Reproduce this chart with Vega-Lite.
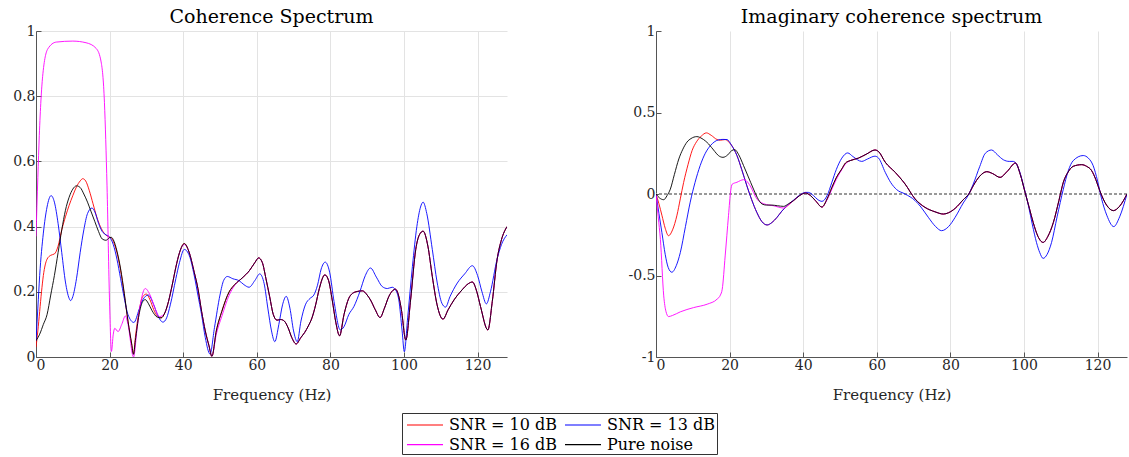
{
"$schema": "https://vega.github.io/schema/vega-lite/v6.json",
"padding": {"left": 12, "top": 8, "right": 0, "bottom": 0},
"background": "white",
"bounds": "flush",
"spacing": 149,
"datasets": {
"coh": [
{"s":"SNR = 10 dB","f":0,"v":0.03},{"s":"SNR = 10 dB","f":0.5,"v":0.08},{"s":"SNR = 10 dB","f":1,"v":0.14},{"s":"SNR = 10 dB","f":1.5,"v":0.2},{"s":"SNR = 10 dB","f":2,"v":0.25},{"s":"SNR = 10 dB","f":3,"v":0.3},{"s":"SNR = 10 dB","f":4,"v":0.312},{"s":"SNR = 10 dB","f":5,"v":0.316},{"s":"SNR = 10 dB","f":6,"v":0.34},{"s":"SNR = 10 dB","f":7,"v":0.39},{"s":"SNR = 10 dB","f":8,"v":0.43},{"s":"SNR = 10 dB","f":9,"v":0.465},{"s":"SNR = 10 dB","f":10,"v":0.495},{"s":"SNR = 10 dB","f":11,"v":0.522},{"s":"SNR = 10 dB","f":12,"v":0.54},{"s":"SNR = 10 dB","f":12.7,"v":0.547},{"s":"SNR = 10 dB","f":13.5,"v":0.54},{"s":"SNR = 10 dB","f":14.5,"v":0.51},{"s":"SNR = 10 dB","f":15.5,"v":0.47},{"s":"SNR = 10 dB","f":16.5,"v":0.43},{"s":"SNR = 10 dB","f":17.5,"v":0.4},{"s":"SNR = 10 dB","f":18.5,"v":0.38},{"s":"SNR = 10 dB","f":19.5,"v":0.37},{"s":"SNR = 10 dB","f":20.5,"v":0.365},{"s":"SNR = 10 dB","f":21,"v":0.355},{"s":"SNR = 10 dB","f":22,"v":0.32},{"s":"SNR = 10 dB","f":23,"v":0.265},{"s":"SNR = 10 dB","f":24,"v":0.19},{"s":"SNR = 10 dB","f":25,"v":0.11},{"s":"SNR = 10 dB","f":26,"v":0.04},{"s":"SNR = 10 dB","f":26.5,"v":0.01},{"s":"SNR = 10 dB","f":27,"v":0.06},{"s":"SNR = 10 dB","f":28,"v":0.14},{"s":"SNR = 10 dB","f":29,"v":0.185},{"s":"SNR = 10 dB","f":30,"v":0.193},{"s":"SNR = 10 dB","f":31,"v":0.175},{"s":"SNR = 10 dB","f":32,"v":0.145},{"s":"SNR = 10 dB","f":33,"v":0.125},{"s":"SNR = 10 dB","f":34,"v":0.12},{"s":"SNR = 10 dB","f":35,"v":0.135},{"s":"SNR = 10 dB","f":36,"v":0.17},{"s":"SNR = 10 dB","f":37,"v":0.22},{"s":"SNR = 10 dB","f":38,"v":0.275},{"s":"SNR = 10 dB","f":39,"v":0.32},{"s":"SNR = 10 dB","f":40.3,"v":0.348},{"s":"SNR = 10 dB","f":41.5,"v":0.325},{"s":"SNR = 10 dB","f":43,"v":0.26},{"s":"SNR = 10 dB","f":44,"v":0.21},{"s":"SNR = 10 dB","f":45,"v":0.14},{"s":"SNR = 10 dB","f":46,"v":0.08},{"s":"SNR = 10 dB","f":47,"v":0.035},{"s":"SNR = 10 dB","f":47.8,"v":0.002},{"s":"SNR = 10 dB","f":49,"v":0.08},{"s":"SNR = 10 dB","f":50.5,"v":0.14},{"s":"SNR = 10 dB","f":52.5,"v":0.2},{"s":"SNR = 10 dB","f":54,"v":0.222},{"s":"SNR = 10 dB","f":56,"v":0.242},{"s":"SNR = 10 dB","f":58,"v":0.265},{"s":"SNR = 10 dB","f":59.5,"v":0.29},{"s":"SNR = 10 dB","f":60.5,"v":0.304},{"s":"SNR = 10 dB","f":61.5,"v":0.29},{"s":"SNR = 10 dB","f":62.5,"v":0.24},{"s":"SNR = 10 dB","f":63.5,"v":0.185},{"s":"SNR = 10 dB","f":64.5,"v":0.13},{"s":"SNR = 10 dB","f":65.5,"v":0.113},{"s":"SNR = 10 dB","f":66.5,"v":0.115},{"s":"SNR = 10 dB","f":67.5,"v":0.11},{"s":"SNR = 10 dB","f":68.5,"v":0.09},{"s":"SNR = 10 dB","f":69.5,"v":0.06},{"s":"SNR = 10 dB","f":70.7,"v":0.04},{"s":"SNR = 10 dB","f":72,"v":0.06},{"s":"SNR = 10 dB","f":73,"v":0.075},{"s":"SNR = 10 dB","f":74,"v":0.095},{"s":"SNR = 10 dB","f":75,"v":0.12},{"s":"SNR = 10 dB","f":76,"v":0.16},{"s":"SNR = 10 dB","f":77,"v":0.21},{"s":"SNR = 10 dB","f":78.5,"v":0.252},{"s":"SNR = 10 dB","f":79.5,"v":0.235},{"s":"SNR = 10 dB","f":80.5,"v":0.175},{"s":"SNR = 10 dB","f":81.5,"v":0.105},{"s":"SNR = 10 dB","f":82.5,"v":0.065},{"s":"SNR = 10 dB","f":83.7,"v":0.13},{"s":"SNR = 10 dB","f":85,"v":0.18},{"s":"SNR = 10 dB","f":86,"v":0.195},{"s":"SNR = 10 dB","f":87.3,"v":0.201},{"s":"SNR = 10 dB","f":88.7,"v":0.203},{"s":"SNR = 10 dB","f":90,"v":0.19},{"s":"SNR = 10 dB","f":90.9,"v":0.175},{"s":"SNR = 10 dB","f":92.2,"v":0.145},{"s":"SNR = 10 dB","f":93.5,"v":0.121},{"s":"SNR = 10 dB","f":94.7,"v":0.15},{"s":"SNR = 10 dB","f":95.9,"v":0.186},{"s":"SNR = 10 dB","f":97.7,"v":0.208},{"s":"SNR = 10 dB","f":98.5,"v":0.19},{"s":"SNR = 10 dB","f":99.3,"v":0.145},{"s":"SNR = 10 dB","f":100.5,"v":0.052},{"s":"SNR = 10 dB","f":101.8,"v":0.175},{"s":"SNR = 10 dB","f":103.2,"v":0.33},{"s":"SNR = 10 dB","f":104.2,"v":0.375},{"s":"SNR = 10 dB","f":105.2,"v":0.386},{"s":"SNR = 10 dB","f":106.5,"v":0.34},{"s":"SNR = 10 dB","f":107.7,"v":0.247},{"s":"SNR = 10 dB","f":109,"v":0.16},{"s":"SNR = 10 dB","f":110.6,"v":0.116},{"s":"SNR = 10 dB","f":112,"v":0.145},{"s":"SNR = 10 dB","f":113.6,"v":0.175},{"s":"SNR = 10 dB","f":115.8,"v":0.206},{"s":"SNR = 10 dB","f":117.5,"v":0.225},{"s":"SNR = 10 dB","f":118.6,"v":0.23},{"s":"SNR = 10 dB","f":119.8,"v":0.2},{"s":"SNR = 10 dB","f":120.8,"v":0.155},{"s":"SNR = 10 dB","f":122.8,"v":0.083},{"s":"SNR = 10 dB","f":124,"v":0.17},{"s":"SNR = 10 dB","f":125.3,"v":0.298},{"s":"SNR = 10 dB","f":126.5,"v":0.36},{"s":"SNR = 10 dB","f":128,"v":0.4},

{"s":"SNR = 13 dB","f":0,"v":0.05},{"s":"SNR = 13 dB","f":0.5,"v":0.15},{"s":"SNR = 13 dB","f":1,"v":0.25},{"s":"SNR = 13 dB","f":2,"v":0.38},{"s":"SNR = 13 dB","f":3,"v":0.46},{"s":"SNR = 13 dB","f":4.1,"v":0.495},{"s":"SNR = 13 dB","f":5,"v":0.475},{"s":"SNR = 13 dB","f":6,"v":0.41},{"s":"SNR = 13 dB","f":7,"v":0.32},{"s":"SNR = 13 dB","f":8,"v":0.23},{"s":"SNR = 13 dB","f":9,"v":0.18},{"s":"SNR = 13 dB","f":9.4,"v":0.173},{"s":"SNR = 13 dB","f":10,"v":0.185},{"s":"SNR = 13 dB","f":11,"v":0.24},{"s":"SNR = 13 dB","f":12,"v":0.32},{"s":"SNR = 13 dB","f":13,"v":0.39},{"s":"SNR = 13 dB","f":14,"v":0.44},{"s":"SNR = 13 dB","f":15.2,"v":0.457},{"s":"SNR = 13 dB","f":16,"v":0.445},{"s":"SNR = 13 dB","f":17,"v":0.41},{"s":"SNR = 13 dB","f":18,"v":0.385},{"s":"SNR = 13 dB","f":19,"v":0.375},{"s":"SNR = 13 dB","f":20,"v":0.368},{"s":"SNR = 13 dB","f":21,"v":0.345},{"s":"SNR = 13 dB","f":22,"v":0.3},{"s":"SNR = 13 dB","f":23,"v":0.24},{"s":"SNR = 13 dB","f":24,"v":0.18},{"s":"SNR = 13 dB","f":25,"v":0.13},{"s":"SNR = 13 dB","f":26.6,"v":0.106},{"s":"SNR = 13 dB","f":28,"v":0.145},{"s":"SNR = 13 dB","f":29,"v":0.175},{"s":"SNR = 13 dB","f":30.5,"v":0.19},{"s":"SNR = 13 dB","f":32,"v":0.16},{"s":"SNR = 13 dB","f":33,"v":0.13},{"s":"SNR = 13 dB","f":34.5,"v":0.107},{"s":"SNR = 13 dB","f":35.5,"v":0.12},{"s":"SNR = 13 dB","f":36.5,"v":0.16},{"s":"SNR = 13 dB","f":38,"v":0.24},{"s":"SNR = 13 dB","f":39,"v":0.29},{"s":"SNR = 13 dB","f":40.3,"v":0.33},{"s":"SNR = 13 dB","f":41.7,"v":0.31},{"s":"SNR = 13 dB","f":43,"v":0.25},{"s":"SNR = 13 dB","f":44,"v":0.19},{"s":"SNR = 13 dB","f":45,"v":0.13},{"s":"SNR = 13 dB","f":46,"v":0.06},{"s":"SNR = 13 dB","f":47.3,"v":0.009},{"s":"SNR = 13 dB","f":48.5,"v":0.09},{"s":"SNR = 13 dB","f":50,"v":0.19},{"s":"SNR = 13 dB","f":51,"v":0.235},{"s":"SNR = 13 dB","f":52,"v":0.247},{"s":"SNR = 13 dB","f":53.5,"v":0.24},{"s":"SNR = 13 dB","f":55.2,"v":0.234},{"s":"SNR = 13 dB","f":56.5,"v":0.222},{"s":"SNR = 13 dB","f":57.9,"v":0.214},{"s":"SNR = 13 dB","f":59.5,"v":0.235},{"s":"SNR = 13 dB","f":60.8,"v":0.255},{"s":"SNR = 13 dB","f":62,"v":0.225},{"s":"SNR = 13 dB","f":63,"v":0.15},{"s":"SNR = 13 dB","f":64,"v":0.08},{"s":"SNR = 13 dB","f":64.9,"v":0.047},{"s":"SNR = 13 dB","f":66,"v":0.1},{"s":"SNR = 13 dB","f":67,"v":0.16},{"s":"SNR = 13 dB","f":68,"v":0.186},{"s":"SNR = 13 dB","f":69,"v":0.15},{"s":"SNR = 13 dB","f":70,"v":0.08},{"s":"SNR = 13 dB","f":71,"v":0.047},{"s":"SNR = 13 dB","f":72,"v":0.11},{"s":"SNR = 13 dB","f":73.2,"v":0.16},{"s":"SNR = 13 dB","f":74.5,"v":0.18},{"s":"SNR = 13 dB","f":75.5,"v":0.19},{"s":"SNR = 13 dB","f":76.5,"v":0.22},{"s":"SNR = 13 dB","f":77.5,"v":0.27},{"s":"SNR = 13 dB","f":78.6,"v":0.291},{"s":"SNR = 13 dB","f":79.8,"v":0.26},{"s":"SNR = 13 dB","f":81,"v":0.17},{"s":"SNR = 13 dB","f":82.7,"v":0.083},{"s":"SNR = 13 dB","f":83.7,"v":0.093},{"s":"SNR = 13 dB","f":85,"v":0.13},{"s":"SNR = 13 dB","f":86.4,"v":0.155},{"s":"SNR = 13 dB","f":88,"v":0.2},{"s":"SNR = 13 dB","f":89.5,"v":0.25},{"s":"SNR = 13 dB","f":90.9,"v":0.273},{"s":"SNR = 13 dB","f":92.5,"v":0.245},{"s":"SNR = 13 dB","f":94.1,"v":0.216},{"s":"SNR = 13 dB","f":95.5,"v":0.21},{"s":"SNR = 13 dB","f":96.8,"v":0.214},{"s":"SNR = 13 dB","f":98,"v":0.2},{"s":"SNR = 13 dB","f":98.6,"v":0.175},{"s":"SNR = 13 dB","f":99.5,"v":0.08},{"s":"SNR = 13 dB","f":100.1,"v":0.016},{"s":"SNR = 13 dB","f":101,"v":0.12},{"s":"SNR = 13 dB","f":102.3,"v":0.278},{"s":"SNR = 13 dB","f":103.5,"v":0.4},{"s":"SNR = 13 dB","f":104.5,"v":0.46},{"s":"SNR = 13 dB","f":105.2,"v":0.475},{"s":"SNR = 13 dB","f":106.2,"v":0.44},{"s":"SNR = 13 dB","f":107.7,"v":0.33},{"s":"SNR = 13 dB","f":109,"v":0.23},{"s":"SNR = 13 dB","f":110.3,"v":0.165},{"s":"SNR = 13 dB","f":111.3,"v":0.153},{"s":"SNR = 13 dB","f":112.5,"v":0.185},{"s":"SNR = 13 dB","f":114.5,"v":0.227},{"s":"SNR = 13 dB","f":116.5,"v":0.255},{"s":"SNR = 13 dB","f":118.6,"v":0.28},{"s":"SNR = 13 dB","f":120,"v":0.25},{"s":"SNR = 13 dB","f":121.2,"v":0.2},{"s":"SNR = 13 dB","f":122.4,"v":0.163},{"s":"SNR = 13 dB","f":123.5,"v":0.2},{"s":"SNR = 13 dB","f":125.3,"v":0.3},{"s":"SNR = 13 dB","f":126.5,"v":0.345},{"s":"SNR = 13 dB","f":128,"v":0.375},

{"s":"SNR = 16 dB","f":0,"v":0.37},{"s":"SNR = 16 dB","f":0.5,"v":0.55},{"s":"SNR = 16 dB","f":0.9,"v":0.68},{"s":"SNR = 16 dB","f":1.8,"v":0.86},{"s":"SNR = 16 dB","f":3.2,"v":0.945},{"s":"SNR = 16 dB","f":5.5,"v":0.966},{"s":"SNR = 16 dB","f":10,"v":0.969},{"s":"SNR = 16 dB","f":13.6,"v":0.964},{"s":"SNR = 16 dB","f":16.4,"v":0.946},{"s":"SNR = 16 dB","f":17.7,"v":0.905},{"s":"SNR = 16 dB","f":18.6,"v":0.78},{"s":"SNR = 16 dB","f":19.3,"v":0.525},{"s":"SNR = 16 dB","f":20,"v":0.166},{"s":"SNR = 16 dB","f":20.5,"v":0.017},{"s":"SNR = 16 dB","f":21,"v":0.07},{"s":"SNR = 16 dB","f":21.4,"v":0.088},{"s":"SNR = 16 dB","f":22.3,"v":0.078},{"s":"SNR = 16 dB","f":23.3,"v":0.1},{"s":"SNR = 16 dB","f":24.3,"v":0.126},{"s":"SNR = 16 dB","f":25,"v":0.1},{"s":"SNR = 16 dB","f":26.5,"v":0.0},{"s":"SNR = 16 dB","f":27.5,"v":0.09},{"s":"SNR = 16 dB","f":28.5,"v":0.17},{"s":"SNR = 16 dB","f":29.7,"v":0.21},{"s":"SNR = 16 dB","f":31,"v":0.19},{"s":"SNR = 16 dB","f":32.5,"v":0.145},{"s":"SNR = 16 dB","f":33.6,"v":0.124},{"s":"SNR = 16 dB","f":35,"v":0.135},{"s":"SNR = 16 dB","f":36,"v":0.17},{"s":"SNR = 16 dB","f":37,"v":0.22},{"s":"SNR = 16 dB","f":38,"v":0.275},{"s":"SNR = 16 dB","f":39,"v":0.32},{"s":"SNR = 16 dB","f":40.3,"v":0.345},{"s":"SNR = 16 dB","f":41.5,"v":0.325},{"s":"SNR = 16 dB","f":43,"v":0.26},{"s":"SNR = 16 dB","f":44,"v":0.21},{"s":"SNR = 16 dB","f":45,"v":0.14},{"s":"SNR = 16 dB","f":46,"v":0.08},{"s":"SNR = 16 dB","f":47,"v":0.035},{"s":"SNR = 16 dB","f":47.8,"v":0.002},{"s":"SNR = 16 dB","f":49,"v":0.07},{"s":"SNR = 16 dB","f":50.5,"v":0.125},{"s":"SNR = 16 dB","f":52.5,"v":0.19},{"s":"SNR = 16 dB","f":54,"v":0.22},{"s":"SNR = 16 dB","f":56,"v":0.242},{"s":"SNR = 16 dB","f":58,"v":0.265},{"s":"SNR = 16 dB","f":59.5,"v":0.29},{"s":"SNR = 16 dB","f":60.5,"v":0.304},{"s":"SNR = 16 dB","f":61.5,"v":0.29},{"s":"SNR = 16 dB","f":62.5,"v":0.24},{"s":"SNR = 16 dB","f":63.5,"v":0.185},{"s":"SNR = 16 dB","f":64.5,"v":0.13},{"s":"SNR = 16 dB","f":65.5,"v":0.113},{"s":"SNR = 16 dB","f":66.5,"v":0.115},{"s":"SNR = 16 dB","f":67.5,"v":0.11},{"s":"SNR = 16 dB","f":68.5,"v":0.09},{"s":"SNR = 16 dB","f":69.5,"v":0.06},{"s":"SNR = 16 dB","f":70.7,"v":0.04},{"s":"SNR = 16 dB","f":72,"v":0.06},{"s":"SNR = 16 dB","f":73,"v":0.075},{"s":"SNR = 16 dB","f":74,"v":0.095},{"s":"SNR = 16 dB","f":75,"v":0.12},{"s":"SNR = 16 dB","f":76,"v":0.16},{"s":"SNR = 16 dB","f":77,"v":0.21},{"s":"SNR = 16 dB","f":78.5,"v":0.252},{"s":"SNR = 16 dB","f":79.5,"v":0.235},{"s":"SNR = 16 dB","f":80.5,"v":0.175},{"s":"SNR = 16 dB","f":81.5,"v":0.105},{"s":"SNR = 16 dB","f":82.5,"v":0.065},{"s":"SNR = 16 dB","f":83.7,"v":0.13},{"s":"SNR = 16 dB","f":85,"v":0.18},{"s":"SNR = 16 dB","f":86,"v":0.195},{"s":"SNR = 16 dB","f":87.3,"v":0.201},{"s":"SNR = 16 dB","f":88.7,"v":0.203},{"s":"SNR = 16 dB","f":90,"v":0.19},{"s":"SNR = 16 dB","f":90.9,"v":0.175},{"s":"SNR = 16 dB","f":92.2,"v":0.145},{"s":"SNR = 16 dB","f":93.5,"v":0.121},{"s":"SNR = 16 dB","f":94.7,"v":0.15},{"s":"SNR = 16 dB","f":95.9,"v":0.186},{"s":"SNR = 16 dB","f":97.7,"v":0.208},{"s":"SNR = 16 dB","f":98.5,"v":0.19},{"s":"SNR = 16 dB","f":99.3,"v":0.145},{"s":"SNR = 16 dB","f":100.5,"v":0.052},{"s":"SNR = 16 dB","f":101.8,"v":0.175},{"s":"SNR = 16 dB","f":103.2,"v":0.33},{"s":"SNR = 16 dB","f":104.2,"v":0.375},{"s":"SNR = 16 dB","f":105.2,"v":0.386},{"s":"SNR = 16 dB","f":106.5,"v":0.34},{"s":"SNR = 16 dB","f":107.7,"v":0.247},{"s":"SNR = 16 dB","f":109,"v":0.16},{"s":"SNR = 16 dB","f":110.6,"v":0.116},{"s":"SNR = 16 dB","f":112,"v":0.145},{"s":"SNR = 16 dB","f":113.6,"v":0.175},{"s":"SNR = 16 dB","f":115.8,"v":0.206},{"s":"SNR = 16 dB","f":117.5,"v":0.225},{"s":"SNR = 16 dB","f":118.6,"v":0.23},{"s":"SNR = 16 dB","f":119.8,"v":0.2},{"s":"SNR = 16 dB","f":120.8,"v":0.155},{"s":"SNR = 16 dB","f":122.8,"v":0.083},{"s":"SNR = 16 dB","f":124,"v":0.17},{"s":"SNR = 16 dB","f":125.3,"v":0.298},{"s":"SNR = 16 dB","f":126.5,"v":0.36},{"s":"SNR = 16 dB","f":128,"v":0.4},

{"s":"Pure noise","f":0,"v":0.05},{"s":"Pure noise","f":1,"v":0.07},{"s":"Pure noise","f":2,"v":0.1},{"s":"Pure noise","f":3,"v":0.13},{"s":"Pure noise","f":4,"v":0.19},{"s":"Pure noise","f":5,"v":0.25},{"s":"Pure noise","f":6,"v":0.32},{"s":"Pure noise","f":7,"v":0.39},{"s":"Pure noise","f":8,"v":0.45},{"s":"Pure noise","f":9,"v":0.49},{"s":"Pure noise","f":10,"v":0.515},{"s":"Pure noise","f":11,"v":0.525},{"s":"Pure noise","f":12,"v":0.52},{"s":"Pure noise","f":13,"v":0.5},{"s":"Pure noise","f":14,"v":0.475},{"s":"Pure noise","f":15,"v":0.445},{"s":"Pure noise","f":16,"v":0.415},{"s":"Pure noise","f":17,"v":0.385},{"s":"Pure noise","f":18,"v":0.362},{"s":"Pure noise","f":19,"v":0.358},{"s":"Pure noise","f":20,"v":0.366},{"s":"Pure noise","f":20.5,"v":0.367},{"s":"Pure noise","f":21,"v":0.36},{"s":"Pure noise","f":22,"v":0.325},{"s":"Pure noise","f":23,"v":0.27},{"s":"Pure noise","f":24,"v":0.195},{"s":"Pure noise","f":25,"v":0.11},{"s":"Pure noise","f":26,"v":0.04},{"s":"Pure noise","f":26.5,"v":0.008},{"s":"Pure noise","f":27,"v":0.05},{"s":"Pure noise","f":28,"v":0.13},{"s":"Pure noise","f":29,"v":0.17},{"s":"Pure noise","f":29.7,"v":0.176},{"s":"Pure noise","f":30.5,"v":0.165},{"s":"Pure noise","f":31.5,"v":0.143},{"s":"Pure noise","f":33,"v":0.122},{"s":"Pure noise","f":34,"v":0.12},{"s":"Pure noise","f":35,"v":0.135},{"s":"Pure noise","f":36,"v":0.17},{"s":"Pure noise","f":37,"v":0.22},{"s":"Pure noise","f":38,"v":0.275},{"s":"Pure noise","f":39,"v":0.32},{"s":"Pure noise","f":40.3,"v":0.348},{"s":"Pure noise","f":41.5,"v":0.325},{"s":"Pure noise","f":43,"v":0.26},{"s":"Pure noise","f":44,"v":0.21},{"s":"Pure noise","f":45,"v":0.14},{"s":"Pure noise","f":46,"v":0.08},{"s":"Pure noise","f":47,"v":0.035},{"s":"Pure noise","f":47.8,"v":0.002},{"s":"Pure noise","f":49,"v":0.08},{"s":"Pure noise","f":50.5,"v":0.14},{"s":"Pure noise","f":52.5,"v":0.2},{"s":"Pure noise","f":54,"v":0.222},{"s":"Pure noise","f":56,"v":0.242},{"s":"Pure noise","f":58,"v":0.265},{"s":"Pure noise","f":59.5,"v":0.29},{"s":"Pure noise","f":60.5,"v":0.304},{"s":"Pure noise","f":61.5,"v":0.29},{"s":"Pure noise","f":62.5,"v":0.24},{"s":"Pure noise","f":63.5,"v":0.185},{"s":"Pure noise","f":64.5,"v":0.13},{"s":"Pure noise","f":65.5,"v":0.113},{"s":"Pure noise","f":66.5,"v":0.115},{"s":"Pure noise","f":67.5,"v":0.11},{"s":"Pure noise","f":68.5,"v":0.09},{"s":"Pure noise","f":69.5,"v":0.06},{"s":"Pure noise","f":70.7,"v":0.04},{"s":"Pure noise","f":72,"v":0.06},{"s":"Pure noise","f":73,"v":0.075},{"s":"Pure noise","f":74,"v":0.095},{"s":"Pure noise","f":75,"v":0.12},{"s":"Pure noise","f":76,"v":0.16},{"s":"Pure noise","f":77,"v":0.21},{"s":"Pure noise","f":78.5,"v":0.252},{"s":"Pure noise","f":79.5,"v":0.235},{"s":"Pure noise","f":80.5,"v":0.175},{"s":"Pure noise","f":81.5,"v":0.105},{"s":"Pure noise","f":82.5,"v":0.065},{"s":"Pure noise","f":83.7,"v":0.13},{"s":"Pure noise","f":85,"v":0.18},{"s":"Pure noise","f":86,"v":0.195},{"s":"Pure noise","f":87.3,"v":0.201},{"s":"Pure noise","f":88.7,"v":0.203},{"s":"Pure noise","f":90,"v":0.19},{"s":"Pure noise","f":90.9,"v":0.175},{"s":"Pure noise","f":92.2,"v":0.145},{"s":"Pure noise","f":93.5,"v":0.121},{"s":"Pure noise","f":94.7,"v":0.15},{"s":"Pure noise","f":95.9,"v":0.186},{"s":"Pure noise","f":97.7,"v":0.208},{"s":"Pure noise","f":98.5,"v":0.19},{"s":"Pure noise","f":99.3,"v":0.145},{"s":"Pure noise","f":100.5,"v":0.052},{"s":"Pure noise","f":101.8,"v":0.175},{"s":"Pure noise","f":103.2,"v":0.33},{"s":"Pure noise","f":104.2,"v":0.375},{"s":"Pure noise","f":105.2,"v":0.386},{"s":"Pure noise","f":106.5,"v":0.34},{"s":"Pure noise","f":107.7,"v":0.247},{"s":"Pure noise","f":109,"v":0.16},{"s":"Pure noise","f":110.6,"v":0.116},{"s":"Pure noise","f":112,"v":0.145},{"s":"Pure noise","f":113.6,"v":0.175},{"s":"Pure noise","f":115.8,"v":0.206},{"s":"Pure noise","f":117.5,"v":0.225},{"s":"Pure noise","f":118.6,"v":0.23},{"s":"Pure noise","f":119.8,"v":0.2},{"s":"Pure noise","f":120.8,"v":0.155},{"s":"Pure noise","f":122.8,"v":0.083},{"s":"Pure noise","f":124,"v":0.17},{"s":"Pure noise","f":125.3,"v":0.298},{"s":"Pure noise","f":126.5,"v":0.36},{"s":"Pure noise","f":128,"v":0.4}
],
"imag": [
{"s":"SNR = 10 dB","f":0,"v":0},{"s":"SNR = 10 dB","f":0.8,"v":-0.06},{"s":"SNR = 10 dB","f":1.6,"v":-0.13},{"s":"SNR = 10 dB","f":2.5,"v":-0.21},{"s":"SNR = 10 dB","f":3.4,"v":-0.256},{"s":"SNR = 10 dB","f":4.5,"v":-0.22},{"s":"SNR = 10 dB","f":5.7,"v":-0.13},{"s":"SNR = 10 dB","f":6.6,"v":-0.03},{"s":"SNR = 10 dB","f":7.5,"v":0.07},{"s":"SNR = 10 dB","f":8.7,"v":0.18},{"s":"SNR = 10 dB","f":9.8,"v":0.266},{"s":"SNR = 10 dB","f":11,"v":0.32},{"s":"SNR = 10 dB","f":12.3,"v":0.355},{"s":"SNR = 10 dB","f":13.7,"v":0.375},{"s":"SNR = 10 dB","f":15,"v":0.36},{"s":"SNR = 10 dB","f":16.6,"v":0.334},{"s":"SNR = 10 dB","f":17.5,"v":0.33},{"s":"SNR = 10 dB","f":18.8,"v":0.334},{"s":"SNR = 10 dB","f":19.5,"v":0.325},{"s":"SNR = 10 dB","f":20.5,"v":0.3},{"s":"SNR = 10 dB","f":22,"v":0.236},{"s":"SNR = 10 dB","f":23.3,"v":0.15},{"s":"SNR = 10 dB","f":24.7,"v":0.05},{"s":"SNR = 10 dB","f":26,"v":-0.035},{"s":"SNR = 10 dB","f":27.4,"v":-0.113},{"s":"SNR = 10 dB","f":28.8,"v":-0.17},{"s":"SNR = 10 dB","f":30.2,"v":-0.19},{"s":"SNR = 10 dB","f":31.5,"v":-0.175},{"s":"SNR = 10 dB","f":32.9,"v":-0.143},{"s":"SNR = 10 dB","f":34.2,"v":-0.105},{"s":"SNR = 10 dB","f":35.6,"v":-0.075},{"s":"SNR = 10 dB","f":37.4,"v":-0.04},{"s":"SNR = 10 dB","f":39,"v":-0.01},{"s":"SNR = 10 dB","f":40.6,"v":0.006},{"s":"SNR = 10 dB","f":42,"v":-0.01},{"s":"SNR = 10 dB","f":43.3,"v":-0.04},{"s":"SNR = 10 dB","f":45.1,"v":-0.08},{"s":"SNR = 10 dB","f":46.5,"v":-0.03},{"s":"SNR = 10 dB","f":47.8,"v":0.04},{"s":"SNR = 10 dB","f":49,"v":0.1},{"s":"SNR = 10 dB","f":50.5,"v":0.154},{"s":"SNR = 10 dB","f":51.5,"v":0.19},{"s":"SNR = 10 dB","f":52.8,"v":0.205},{"s":"SNR = 10 dB","f":55,"v":0.22},{"s":"SNR = 10 dB","f":57.3,"v":0.246},{"s":"SNR = 10 dB","f":59.5,"v":0.27},{"s":"SNR = 10 dB","f":60.5,"v":0.26},{"s":"SNR = 10 dB","f":62.3,"v":0.195},{"s":"SNR = 10 dB","f":65,"v":0.133},{"s":"SNR = 10 dB","f":67.7,"v":0.061},{"s":"SNR = 10 dB","f":70.4,"v":-0.03},{"s":"SNR = 10 dB","f":73.1,"v":-0.082},{"s":"SNR = 10 dB","f":75.8,"v":-0.109},{"s":"SNR = 10 dB","f":78.1,"v":-0.123},{"s":"SNR = 10 dB","f":79.5,"v":-0.115},{"s":"SNR = 10 dB","f":81.3,"v":-0.088},{"s":"SNR = 10 dB","f":83.5,"v":-0.035},{"s":"SNR = 10 dB","f":85,"v":0.0},{"s":"SNR = 10 dB","f":86.2,"v":0.05},{"s":"SNR = 10 dB","f":88,"v":0.11},{"s":"SNR = 10 dB","f":89.9,"v":0.137},{"s":"SNR = 10 dB","f":91.5,"v":0.125},{"s":"SNR = 10 dB","f":93.5,"v":0.102},{"s":"SNR = 10 dB","f":95.5,"v":0.14},{"s":"SNR = 10 dB","f":97.7,"v":0.19},{"s":"SNR = 10 dB","f":99,"v":0.12},{"s":"SNR = 10 dB","f":100.3,"v":0.01},{"s":"SNR = 10 dB","f":101.5,"v":-0.09},{"s":"SNR = 10 dB","f":102.5,"v":-0.174},{"s":"SNR = 10 dB","f":103.8,"v":-0.26},{"s":"SNR = 10 dB","f":105.2,"v":-0.297},{"s":"SNR = 10 dB","f":106.5,"v":-0.26},{"s":"SNR = 10 dB","f":108,"v":-0.174},{"s":"SNR = 10 dB","f":109.5,"v":-0.04},{"s":"SNR = 10 dB","f":110.7,"v":0.072},{"s":"SNR = 10 dB","f":112,"v":0.135},{"s":"SNR = 10 dB","f":113.4,"v":0.17},{"s":"SNR = 10 dB","f":115.7,"v":0.18},{"s":"SNR = 10 dB","f":117,"v":0.17},{"s":"SNR = 10 dB","f":118.4,"v":0.143},{"s":"SNR = 10 dB","f":119.5,"v":0.09},{"s":"SNR = 10 dB","f":120.6,"v":0.02},{"s":"SNR = 10 dB","f":122.5,"v":-0.07},{"s":"SNR = 10 dB","f":124.3,"v":-0.102},{"s":"SNR = 10 dB","f":126,"v":-0.075},{"s":"SNR = 10 dB","f":128,"v":0},

{"s":"SNR = 13 dB","f":0,"v":0},{"s":"SNR = 13 dB","f":0.8,"v":-0.12},{"s":"SNR = 13 dB","f":1.6,"v":-0.236},{"s":"SNR = 13 dB","f":2.5,"v":-0.37},{"s":"SNR = 13 dB","f":3.3,"v":-0.45},{"s":"SNR = 13 dB","f":4.3,"v":-0.48},{"s":"SNR = 13 dB","f":5.5,"v":-0.44},{"s":"SNR = 13 dB","f":6.6,"v":-0.36},{"s":"SNR = 13 dB","f":8,"v":-0.2},{"s":"SNR = 13 dB","f":9.3,"v":-0.05},{"s":"SNR = 13 dB","f":10.6,"v":0.07},{"s":"SNR = 13 dB","f":12,"v":0.174},{"s":"SNR = 13 dB","f":13.4,"v":0.25},{"s":"SNR = 13 dB","f":14.8,"v":0.297},{"s":"SNR = 13 dB","f":16,"v":0.322},{"s":"SNR = 13 dB","f":17,"v":0.332},{"s":"SNR = 13 dB","f":18.2,"v":0.335},{"s":"SNR = 13 dB","f":19.3,"v":0.334},{"s":"SNR = 13 dB","f":20.5,"v":0.3},{"s":"SNR = 13 dB","f":22,"v":0.236},{"s":"SNR = 13 dB","f":23.3,"v":0.15},{"s":"SNR = 13 dB","f":24.7,"v":0.05},{"s":"SNR = 13 dB","f":26,"v":-0.035},{"s":"SNR = 13 dB","f":27.4,"v":-0.113},{"s":"SNR = 13 dB","f":28.8,"v":-0.17},{"s":"SNR = 13 dB","f":30.2,"v":-0.19},{"s":"SNR = 13 dB","f":31.5,"v":-0.175},{"s":"SNR = 13 dB","f":32.9,"v":-0.143},{"s":"SNR = 13 dB","f":34.2,"v":-0.105},{"s":"SNR = 13 dB","f":35.6,"v":-0.072},{"s":"SNR = 13 dB","f":37,"v":-0.045},{"s":"SNR = 13 dB","f":38.3,"v":-0.02},{"s":"SNR = 13 dB","f":39.5,"v":0.0},{"s":"SNR = 13 dB","f":40.6,"v":0.01},{"s":"SNR = 13 dB","f":41.4,"v":0.01},{"s":"SNR = 13 dB","f":42.8,"v":-0.01},{"s":"SNR = 13 dB","f":44,"v":-0.035},{"s":"SNR = 13 dB","f":45.1,"v":-0.045},{"s":"SNR = 13 dB","f":46.5,"v":-0.01},{"s":"SNR = 13 dB","f":47.8,"v":0.072},{"s":"SNR = 13 dB","f":49,"v":0.15},{"s":"SNR = 13 dB","f":50.5,"v":0.22},{"s":"SNR = 13 dB","f":52.1,"v":0.252},{"s":"SNR = 13 dB","f":53.5,"v":0.23},{"s":"SNR = 13 dB","f":55.9,"v":0.2},{"s":"SNR = 13 dB","f":57.5,"v":0.215},{"s":"SNR = 13 dB","f":59.5,"v":0.232},{"s":"SNR = 13 dB","f":60.5,"v":0.22},{"s":"SNR = 13 dB","f":62.3,"v":0.133},{"s":"SNR = 13 dB","f":63.8,"v":0.07},{"s":"SNR = 13 dB","f":65.4,"v":0.027},{"s":"SNR = 13 dB","f":67.7,"v":0.0},{"s":"SNR = 13 dB","f":70.4,"v":-0.04},{"s":"SNR = 13 dB","f":72,"v":-0.08},{"s":"SNR = 13 dB","f":74,"v":-0.143},{"s":"SNR = 13 dB","f":76,"v":-0.2},{"s":"SNR = 13 dB","f":77.6,"v":-0.225},{"s":"SNR = 13 dB","f":79.5,"v":-0.2},{"s":"SNR = 13 dB","f":81.3,"v":-0.143},{"s":"SNR = 13 dB","f":83.5,"v":-0.055},{"s":"SNR = 13 dB","f":84.9,"v":-0.006},{"s":"SNR = 13 dB","f":86.2,"v":0.06},{"s":"SNR = 13 dB","f":88,"v":0.17},{"s":"SNR = 13 dB","f":89.5,"v":0.25},{"s":"SNR = 13 dB","f":91.2,"v":0.27},{"s":"SNR = 13 dB","f":92.8,"v":0.24},{"s":"SNR = 13 dB","f":94.4,"v":0.21},{"s":"SNR = 13 dB","f":96,"v":0.2},{"s":"SNR = 13 dB","f":97.1,"v":0.2},{"s":"SNR = 13 dB","f":98.9,"v":0.133},{"s":"SNR = 13 dB","f":100,"v":0.04},{"s":"SNR = 13 dB","f":101.2,"v":-0.07},{"s":"SNR = 13 dB","f":102.3,"v":-0.19},{"s":"SNR = 13 dB","f":103.4,"v":-0.297},{"s":"SNR = 13 dB","f":104.3,"v":-0.36},{"s":"SNR = 13 dB","f":105.2,"v":-0.395},{"s":"SNR = 13 dB","f":106.3,"v":-0.37},{"s":"SNR = 13 dB","f":107.5,"v":-0.297},{"s":"SNR = 13 dB","f":109,"v":-0.14},{"s":"SNR = 13 dB","f":110.7,"v":0.03},{"s":"SNR = 13 dB","f":112,"v":0.14},{"s":"SNR = 13 dB","f":113.4,"v":0.205},{"s":"SNR = 13 dB","f":116.1,"v":0.236},{"s":"SNR = 13 dB","f":117.5,"v":0.22},{"s":"SNR = 13 dB","f":118.8,"v":0.174},{"s":"SNR = 13 dB","f":120,"v":0.08},{"s":"SNR = 13 dB","f":121.1,"v":-0.03},{"s":"SNR = 13 dB","f":122.5,"v":-0.13},{"s":"SNR = 13 dB","f":124.4,"v":-0.2},{"s":"SNR = 13 dB","f":126,"v":-0.14},{"s":"SNR = 13 dB","f":128,"v":0},

{"s":"SNR = 16 dB","f":0,"v":0},{"s":"SNR = 16 dB","f":0.6,"v":-0.14},{"s":"SNR = 16 dB","f":1.2,"v":-0.28},{"s":"SNR = 16 dB","f":2.1,"v":-0.625},{"s":"SNR = 16 dB","f":2.7,"v":-0.72},{"s":"SNR = 16 dB","f":3.4,"v":-0.752},{"s":"SNR = 16 dB","f":4.5,"v":-0.745},{"s":"SNR = 16 dB","f":6.6,"v":-0.723},{"s":"SNR = 16 dB","f":10.2,"v":-0.697},{"s":"SNR = 16 dB","f":13.9,"v":-0.676},{"s":"SNR = 16 dB","f":16.6,"v":-0.645},{"s":"SNR = 16 dB","f":17.5,"v":-0.62},{"s":"SNR = 16 dB","f":18,"v":-0.584},{"s":"SNR = 16 dB","f":18.8,"v":-0.38},{"s":"SNR = 16 dB","f":19.7,"v":-0.133},{"s":"SNR = 16 dB","f":20.3,"v":0.02},{"s":"SNR = 16 dB","f":20.7,"v":0.06},{"s":"SNR = 16 dB","f":22,"v":0.072},{"s":"SNR = 16 dB","f":23.8,"v":0.088},{"s":"SNR = 16 dB","f":24.6,"v":0.08},{"s":"SNR = 16 dB","f":25.6,"v":0.05},{"s":"SNR = 16 dB","f":27.4,"v":-0.03},{"s":"SNR = 16 dB","f":29.3,"v":-0.06},{"s":"SNR = 16 dB","f":31.9,"v":-0.072},{"s":"SNR = 16 dB","f":34.7,"v":-0.086},{"s":"SNR = 16 dB","f":36,"v":-0.065},{"s":"SNR = 16 dB","f":37.4,"v":-0.04},{"s":"SNR = 16 dB","f":39,"v":-0.01},{"s":"SNR = 16 dB","f":40.6,"v":0.006},{"s":"SNR = 16 dB","f":42,"v":-0.01},{"s":"SNR = 16 dB","f":43.3,"v":-0.04},{"s":"SNR = 16 dB","f":45.1,"v":-0.08},{"s":"SNR = 16 dB","f":46.5,"v":-0.035},{"s":"SNR = 16 dB","f":47.8,"v":0.03},{"s":"SNR = 16 dB","f":49,"v":0.09},{"s":"SNR = 16 dB","f":50.5,"v":0.15},{"s":"SNR = 16 dB","f":51.5,"v":0.185},{"s":"SNR = 16 dB","f":52.8,"v":0.205},{"s":"SNR = 16 dB","f":55,"v":0.22},{"s":"SNR = 16 dB","f":57.3,"v":0.246},{"s":"SNR = 16 dB","f":59.5,"v":0.27},{"s":"SNR = 16 dB","f":60.5,"v":0.26},{"s":"SNR = 16 dB","f":62.3,"v":0.195},{"s":"SNR = 16 dB","f":65,"v":0.133},{"s":"SNR = 16 dB","f":67.7,"v":0.061},{"s":"SNR = 16 dB","f":70.4,"v":-0.03},{"s":"SNR = 16 dB","f":73.1,"v":-0.082},{"s":"SNR = 16 dB","f":75.8,"v":-0.109},{"s":"SNR = 16 dB","f":78.1,"v":-0.123},{"s":"SNR = 16 dB","f":79.5,"v":-0.115},{"s":"SNR = 16 dB","f":81.3,"v":-0.088},{"s":"SNR = 16 dB","f":83.5,"v":-0.035},{"s":"SNR = 16 dB","f":85,"v":0.0},{"s":"SNR = 16 dB","f":86.2,"v":0.05},{"s":"SNR = 16 dB","f":88,"v":0.11},{"s":"SNR = 16 dB","f":89.9,"v":0.137},{"s":"SNR = 16 dB","f":91.5,"v":0.125},{"s":"SNR = 16 dB","f":93.5,"v":0.102},{"s":"SNR = 16 dB","f":95.5,"v":0.14},{"s":"SNR = 16 dB","f":97.7,"v":0.19},{"s":"SNR = 16 dB","f":99,"v":0.12},{"s":"SNR = 16 dB","f":100.3,"v":0.01},{"s":"SNR = 16 dB","f":101.5,"v":-0.09},{"s":"SNR = 16 dB","f":102.5,"v":-0.174},{"s":"SNR = 16 dB","f":103.8,"v":-0.26},{"s":"SNR = 16 dB","f":105.2,"v":-0.297},{"s":"SNR = 16 dB","f":106.5,"v":-0.26},{"s":"SNR = 16 dB","f":108,"v":-0.174},{"s":"SNR = 16 dB","f":109.5,"v":-0.04},{"s":"SNR = 16 dB","f":110.7,"v":0.072},{"s":"SNR = 16 dB","f":112,"v":0.135},{"s":"SNR = 16 dB","f":113.4,"v":0.17},{"s":"SNR = 16 dB","f":115.7,"v":0.18},{"s":"SNR = 16 dB","f":117,"v":0.17},{"s":"SNR = 16 dB","f":118.4,"v":0.143},{"s":"SNR = 16 dB","f":119.5,"v":0.09},{"s":"SNR = 16 dB","f":120.6,"v":0.02},{"s":"SNR = 16 dB","f":122.5,"v":-0.07},{"s":"SNR = 16 dB","f":124.3,"v":-0.102},{"s":"SNR = 16 dB","f":126,"v":-0.075},{"s":"SNR = 16 dB","f":128,"v":0},

{"s":"Pure noise","f":0,"v":0},{"s":"Pure noise","f":1,"v":-0.025},{"s":"Pure noise","f":2.1,"v":-0.035},{"s":"Pure noise","f":3,"v":-0.01},{"s":"Pure noise","f":3.9,"v":0.03},{"s":"Pure noise","f":5,"v":0.12},{"s":"Pure noise","f":6.2,"v":0.215},{"s":"Pure noise","f":7.3,"v":0.275},{"s":"Pure noise","f":8.4,"v":0.318},{"s":"Pure noise","f":9.5,"v":0.34},{"s":"Pure noise","f":11.1,"v":0.352},{"s":"Pure noise","f":12.5,"v":0.34},{"s":"Pure noise","f":14.3,"v":0.307},{"s":"Pure noise","f":16,"v":0.26},{"s":"Pure noise","f":17,"v":0.235},{"s":"Pure noise","f":18.2,"v":0.225},{"s":"Pure noise","f":19.5,"v":0.24},{"s":"Pure noise","f":20.5,"v":0.265},{"s":"Pure noise","f":21.4,"v":0.272},{"s":"Pure noise","f":22.5,"v":0.24},{"s":"Pure noise","f":23.8,"v":0.174},{"s":"Pure noise","f":25,"v":0.11},{"s":"Pure noise","f":26.5,"v":0.03},{"s":"Pure noise","f":27.5,"v":-0.02},{"s":"Pure noise","f":28.8,"v":-0.061},{"s":"Pure noise","f":30,"v":-0.068},{"s":"Pure noise","f":31.5,"v":-0.068},{"s":"Pure noise","f":33,"v":-0.072},{"s":"Pure noise","f":34.7,"v":-0.076},{"s":"Pure noise","f":36,"v":-0.06},{"s":"Pure noise","f":37.4,"v":-0.04},{"s":"Pure noise","f":39,"v":-0.01},{"s":"Pure noise","f":40.6,"v":0.006},{"s":"Pure noise","f":42,"v":-0.01},{"s":"Pure noise","f":43.3,"v":-0.04},{"s":"Pure noise","f":45.1,"v":-0.08},{"s":"Pure noise","f":46.5,"v":-0.03},{"s":"Pure noise","f":47.8,"v":0.04},{"s":"Pure noise","f":49,"v":0.1},{"s":"Pure noise","f":50.5,"v":0.154},{"s":"Pure noise","f":51.5,"v":0.19},{"s":"Pure noise","f":52.8,"v":0.205},{"s":"Pure noise","f":55,"v":0.22},{"s":"Pure noise","f":57.3,"v":0.246},{"s":"Pure noise","f":59.5,"v":0.27},{"s":"Pure noise","f":60.5,"v":0.26},{"s":"Pure noise","f":62.3,"v":0.195},{"s":"Pure noise","f":65,"v":0.133},{"s":"Pure noise","f":67.7,"v":0.061},{"s":"Pure noise","f":70.4,"v":-0.03},{"s":"Pure noise","f":73.1,"v":-0.082},{"s":"Pure noise","f":75.8,"v":-0.109},{"s":"Pure noise","f":78.1,"v":-0.123},{"s":"Pure noise","f":79.5,"v":-0.115},{"s":"Pure noise","f":81.3,"v":-0.088},{"s":"Pure noise","f":83.5,"v":-0.035},{"s":"Pure noise","f":85,"v":0.0},{"s":"Pure noise","f":86.2,"v":0.05},{"s":"Pure noise","f":88,"v":0.11},{"s":"Pure noise","f":89.9,"v":0.137},{"s":"Pure noise","f":91.5,"v":0.125},{"s":"Pure noise","f":93.5,"v":0.102},{"s":"Pure noise","f":95.5,"v":0.14},{"s":"Pure noise","f":97.7,"v":0.19},{"s":"Pure noise","f":99,"v":0.12},{"s":"Pure noise","f":100.3,"v":0.01},{"s":"Pure noise","f":101.5,"v":-0.09},{"s":"Pure noise","f":102.5,"v":-0.174},{"s":"Pure noise","f":103.8,"v":-0.26},{"s":"Pure noise","f":105.2,"v":-0.297},{"s":"Pure noise","f":106.5,"v":-0.26},{"s":"Pure noise","f":108,"v":-0.174},{"s":"Pure noise","f":109.5,"v":-0.04},{"s":"Pure noise","f":110.7,"v":0.072},{"s":"Pure noise","f":112,"v":0.135},{"s":"Pure noise","f":113.4,"v":0.17},{"s":"Pure noise","f":115.7,"v":0.18},{"s":"Pure noise","f":117,"v":0.17},{"s":"Pure noise","f":118.4,"v":0.143},{"s":"Pure noise","f":119.5,"v":0.09},{"s":"Pure noise","f":120.6,"v":0.02},{"s":"Pure noise","f":122.5,"v":-0.07},{"s":"Pure noise","f":124.3,"v":-0.102},{"s":"Pure noise","f":126,"v":-0.075},{"s":"Pure noise","f":128,"v":0}
]
},
"config": {
  "view": {"stroke": null},
  "font": "DejaVu Serif",
  "title": {"font": "DejaVu Serif", "fontSize": 19, "fontWeight": "normal", "color": "#000000", "anchor": "middle", "frame": "group", "offset": -3},
  "axis": {
    "labelFont": "DejaVu Serif", "labelFontSize": 14, "labelColor": "#262626",
    "titleFont": "DejaVu Serif", "titleFontSize": 15, "titleFontWeight": "normal", "titleColor": "#262626",
    "gridColor": "#e3e3e3", "gridWidth": 1,
    "domainColor": "#555555", "domainWidth": 1,
    "tickColor": "#555555", "tickSize": -5, "labelPadding": 6,
    "titlePadding": 15
  },
  "legend": {
    "orient": "none", "legendX": 366, "legendY": 382,
    "columns": 2, "direction": "horizontal",
    "symbolType": "M-1.8,0H1.8", "symbolSize": 400, "symbolStrokeWidth": 1.2, "symbolOffset": 11,
    "labelFont": "DejaVu Serif", "labelFontSize": 16, "labelColor": "#000000", "labelOffset": 13,
    "columnPadding": 3, "rowPadding": 0.6, "padding": 1,
    "strokeColor": "#333333", "fillColor": "white", "strokeWidth": 1
  }
},
"hconcat": [
  {
    "width": 471, "height": 326,
    "title": {"text": "Coherence Spectrum"},
    "data": {"name": "coh"},
    "mark": {"type": "line", "strokeWidth": 0.9, "interpolate": "monotone", "clip": true},
    "encoding": {
      "x": {"field": "f", "type": "quantitative", "title": "Frequency (Hz)",
            "scale": {"domain": [0, 128], "nice": false},
            "axis": {"values": [0, 20, 40, 60, 80, 100, 120]}},
      "y": {"field": "v", "type": "quantitative", "title": null,
            "scale": {"domain": [0, 1], "nice": false},
            "axis": {"values": [0, 0.2, 0.4, 0.6, 0.8, 1], "format": "~g"}},
      "color": {"field": "s", "type": "nominal", "title": null,
                "scale": {"domain": ["SNR = 10 dB", "SNR = 13 dB", "SNR = 16 dB", "Pure noise"],
                          "range": ["#ff0000", "#0000ff", "#ff00ff", "#000000"]}}
    }
  },
  {
    "width": 471, "height": 326,
    "title": {"text": "Imaginary coherence spectrum"},
    "data": {"name": "imag"},
    "layer": [
      {
        "mark": {"type": "rule", "strokeDash": [3, 2], "color": "#999999", "strokeWidth": 1.4},
        "encoding": {"y": {"datum": 0, "type": "quantitative"}}
      },
      {
        "mark": {"type": "line", "strokeWidth": 0.9, "interpolate": "monotone", "clip": true},
        "encoding": {
          "x": {"field": "f", "type": "quantitative", "title": "Frequency (Hz)",
                "scale": {"domain": [0, 128], "nice": false},
                "axis": {"values": [0, 20, 40, 60, 80, 100, 120]}},
          "y": {"field": "v", "type": "quantitative", "title": null,
                "scale": {"domain": [-1, 1], "nice": false},
                "axis": {"values": [-1, -0.5, 0, 0.5, 1], "labelExpr": "replace(format(datum.value, '~g'), '−', '-')"}},
          "color": {"field": "s", "type": "nominal", "title": null,
                    "scale": {"domain": ["SNR = 10 dB", "SNR = 13 dB", "SNR = 16 dB", "Pure noise"],
                              "range": ["#ff0000", "#0000ff", "#ff00ff", "#000000"]}}
        }
      }
    ]
  }
]
}
